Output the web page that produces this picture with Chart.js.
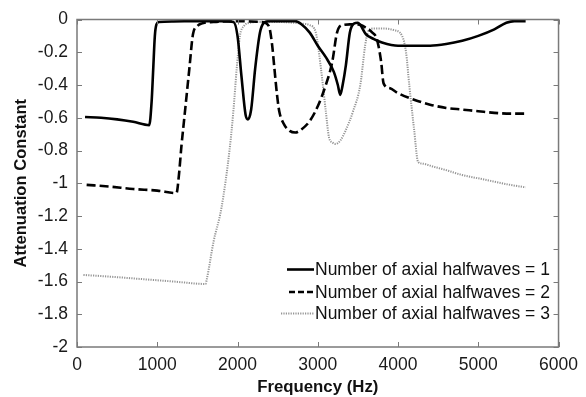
<!DOCTYPE html>
<html>
<head>
<meta charset="utf-8">
<script src="https://cdn.jsdelivr.net/npm/chart.js@4.4.1/dist/chart.umd.min.js"></script>
<style>
  html, body { margin: 0; padding: 0; background: #ffffff; }
  #wrap { width: 586px; height: 397px; }
</style>
</head>
<body>
<div id="wrap"><canvas id="c" width="586" height="397"></canvas></div>
<script>
// Attenuation constant vs frequency for 1, 2 and 3 axial halfwaves
const seriesLabels = [
  'Number of axial halfwaves = 1',
  'Number of axial halfwaves = 2',
  'Number of axial halfwaves = 3'
];

const freq1 = [100, 300, 500, 700, 900, 930, 950, 970, 990, 1020, 1200, 1500, 1800, 1950, 2000, 2050, 2100, 2130, 2170, 2220, 2280, 2330, 2400, 2600, 2720, 2800, 2900, 3000, 3100, 3200, 3250, 3280, 3310, 3350, 3400, 3450, 3500, 3600, 3700, 3800, 4000, 4200, 4400, 4600, 4800, 5000, 5200, 5350, 5450, 5590];
const atten1 = [-0.595, -0.60, -0.61, -0.625, -0.645, -0.5, -0.3, -0.1, -0.03, -0.015, -0.012, -0.01, -0.01, -0.015, -0.1, -0.35, -0.58, -0.61, -0.55, -0.3, -0.08, -0.02, -0.01, -0.01, -0.01, -0.03, -0.08, -0.16, -0.23, -0.32, -0.40, -0.46, -0.40, -0.28, -0.08, -0.025, -0.02, -0.09, -0.12, -0.14, -0.16, -0.16, -0.16, -0.15, -0.13, -0.10, -0.06, -0.02, -0.01, -0.01];

const freq2 = [120, 400, 700, 1000, 1240, 1270, 1300, 1350, 1400, 1445, 1500, 1550, 1700, 2000, 2300, 2390, 2430, 2460, 2490, 2520, 2580, 2650, 2720, 2800, 2900, 3000, 3100, 3180, 3240, 3300, 3400, 3500, 3600, 3680, 3730, 3760, 3790, 3820, 3900, 4000, 4200, 4400, 4600, 4800, 5000, 5200, 5400, 5590];
const atten2 = [-1.01, -1.02, -1.035, -1.045, -1.06, -0.95, -0.78, -0.54, -0.30, -0.09, -0.04, -0.025, -0.015, -0.01, -0.015, -0.04, -0.15, -0.30, -0.45, -0.56, -0.64, -0.68, -0.69, -0.67, -0.62, -0.53, -0.40, -0.26, -0.08, -0.035, -0.03, -0.03, -0.05, -0.08, -0.11, -0.17, -0.26, -0.39, -0.42, -0.45, -0.49, -0.52, -0.54, -0.55, -0.56, -0.57, -0.575, -0.575];

const freq3 = [80, 400, 800, 1200, 1600, 1620, 1700, 1800, 1900, 1950, 1990, 2030, 2080, 2150, 2300, 2500, 2700, 2800, 2900, 2975, 3040, 3100, 3140, 3180, 3220, 3280, 3345, 3440, 3530, 3590, 3630, 3700, 3800, 3950, 4050, 4100, 4140, 4200, 4250, 4300, 4450, 4600, 4800, 5000, 5200, 5400, 5590];
const atten3 = [-1.56, -1.57, -1.585, -1.60, -1.615, -1.58, -1.36, -1.15, -0.80, -0.55, -0.30, -0.10, -0.04, -0.02, -0.015, -0.015, -0.02, -0.025, -0.035, -0.08, -0.30, -0.56, -0.72, -0.75, -0.76, -0.74, -0.68, -0.56, -0.40, -0.16, -0.07, -0.055, -0.055, -0.065, -0.10, -0.20, -0.40, -0.67, -0.87, -0.88, -0.90, -0.92, -0.95, -0.97, -0.99, -1.01, -1.025];

const xTicks = [0, 1000, 2000, 3000, 4000, 5000, 6000];
const yTicks = [0, -0.2, -0.4, -0.6, -0.8, -1, -1.2, -1.4, -1.6, -1.8, -2];

const toPoints = (xs, ys) => xs.map((x, i) => ({ x: x, y: ys[i] }));

const FONT = '"Liberation Sans", Arial, sans-serif';
const FRAME = '#7a7a7a';

// Frame box, inward tick marks on all four sides, and an inset legend
const framePlugin = {
  id: 'frameTicksLegend',
  afterDraw(chart) {
    const ctx = chart.ctx;
    const a = chart.chartArea;
    const xs = chart.scales.x, ys = chart.scales.y;
    ctx.save();
    ctx.strokeStyle = FRAME;
    ctx.lineWidth = 1.5;
    ctx.strokeRect(a.left, a.top, a.right - a.left, a.bottom - a.top);
    const t = 5;
    ctx.beginPath();
    xTicks.forEach(v => {
      const px = Math.round(xs.getPixelForValue(v)) + 0.5;
      ctx.moveTo(px, a.bottom); ctx.lineTo(px, a.bottom - t);
      ctx.moveTo(px, a.top); ctx.lineTo(px, a.top + t);
    });
    yTicks.forEach(v => {
      const py = Math.round(ys.getPixelForValue(v)) + 0.5;
      ctx.moveTo(a.left, py); ctx.lineTo(a.left + t, py);
      ctx.moveTo(a.right, py); ctx.lineTo(a.right - t, py);
    });
    ctx.lineWidth = 1;
    ctx.stroke();

    // legend
    const rows = [269.5, 292, 313.5];
    const starts = [287, 289, 281];
    const x1 = 314;
    chart.data.datasets.forEach((ds, i) => {
      const y = rows[i];
      ctx.beginPath();
      ctx.strokeStyle = ds.borderColor;
      ctx.lineWidth = ds.borderWidth;
      ctx.setLineDash(i === 1 ? [6, 3] : (ds.borderDash || []));
      ctx.moveTo(starts[i], y); ctx.lineTo(x1, y);
      ctx.stroke();
      ctx.setLineDash([]);
      ctx.fillStyle = '#111';
      ctx.font = '17.5px ' + FONT;
      ctx.textAlign = 'left';
      ctx.textBaseline = 'middle';
      ctx.fillText(ds.label, x1 + 1, y + 1);
    });
    ctx.restore();
  }
};

new Chart(document.getElementById('c'), {
  type: 'line',
  data: {
    datasets: [
      { label: seriesLabels[0], data: toPoints(freq1, atten1), borderColor: '#000000', borderWidth: 2.6, borderDash: [] },
      { label: seriesLabels[1], data: toPoints(freq2, atten2), borderColor: '#000000', borderWidth: 2.6, borderDash: [9, 4] },
      { label: seriesLabels[2], data: toPoints(freq3, atten3), borderColor: '#959595', borderWidth: 2, borderDash: [1.2, 1.2] }
    ]
  },
  options: {
    responsive: false,
    animation: false,
    devicePixelRatio: 1,
    layout: { padding: { left: 0, top: 17, right: 19, bottom: 0 } },
    elements: {
      point: { radius: 0 },
      line: { cubicInterpolationMode: 'monotone', fill: false, borderCapStyle: 'butt', borderJoinStyle: 'round' }
    },
    plugins: { legend: { display: false }, tooltip: { enabled: false } },
    scales: {
      x: {
        type: 'linear',
        min: 0, max: 6000,
        afterBuildTicks: s => { s.ticks = xTicks.map(v => ({ value: v })); },
        afterFit: s => { s.height = 50; },
        grid: { display: false, drawTicks: false },
        border: { display: false },
        ticks: { color: '#1a1a1a', font: { family: FONT, size: 17.5 }, padding: 8, maxRotation: 0, callback: v => String(v) },
        title: { display: true, text: 'Frequency (Hz)', color: '#111', font: { family: FONT, size: 16.8, weight: 'bold' }, padding: { top: 0, bottom: 0 } }
      },
      y: {
        type: 'linear',
        min: -2, max: 0,
        afterBuildTicks: s => { s.ticks = yTicks.map(v => ({ value: v })); },
        afterFit: s => { s.width = 77; },
        grid: { display: false, drawTicks: false },
        border: { display: false },
        ticks: { color: '#1a1a1a', font: { family: FONT, size: 17.5 }, padding: 9, callback: v => String(Number(v.toFixed(1))) },
        title: { display: true, text: 'Attenuation Constant', color: '#111', font: { family: FONT, size: 16.6, weight: 'bold' }, padding: { top: 11, bottom: 0 } }
      }
    }
  },
  plugins: [framePlugin]
});
</script>
</body>
</html>
